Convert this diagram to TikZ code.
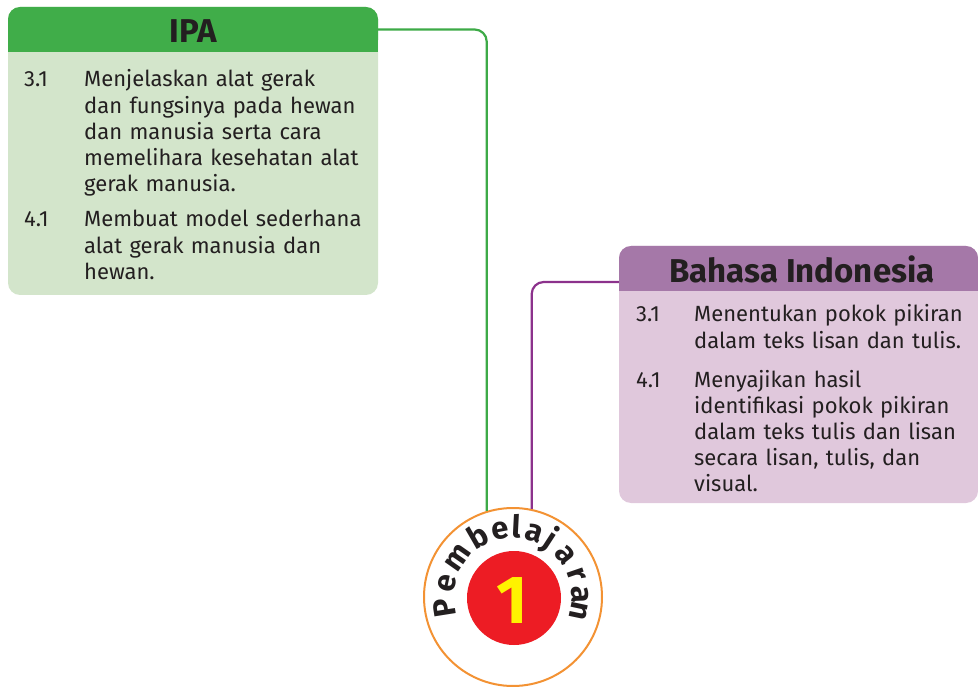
\documentclass[tikz,border=0pt]{standalone}
\usepackage{fontspec}
\setmainfont{Fira Sans}
\definecolor{ipaheadc}{RGB}{64,173,73}
\definecolor{ipabodyc}{RGB}{211,229,203}
\definecolor{ipalinec}{RGB}{61,170,71}
\definecolor{biheadc}{RGB}{165,120,168}
\definecolor{bibodyc}{RGB}{224,200,220}
\definecolor{bilinec}{RGB}{140,50,140}
\definecolor{ringc}{RGB}{243,146,51}
\definecolor{redc}{RGB}{237,28,36}
\definecolor{yelc}{RGB}{255,242,0}
\definecolor{txtc}{RGB}{35,31,32}
\begin{document}
\begin{tikzpicture}[x=1pt,y=-1pt,
  bodytext/.style={anchor=base west, inner sep=0pt, text=txtc, font=\fontsize{22}{26.2}\selectfont, align=left, text width=#1},
  bodytext/.default=300pt,
  numtext/.style={anchor=base west, inner sep=0pt, text=txtc, font=\fontsize{22}{26.2}\selectfont},
  headtext/.style={anchor=base, inner sep=0pt, text=txtc, font=\bfseries\fontsize{33}{33}\selectfont},
  headbox/.style={rectangle, inner sep=0pt, minimum width=#1, minimum height=45pt},
  arcletter/.style={anchor=base, inner sep=0pt, text=txtc, font=\bfseries\fontsize{31}{31}\selectfont},
  conn/.style={line width=2.2pt, rounded corners=12pt}
]
\useasboundingbox (0,0) rectangle (978,687);

% IPA box
\fill[ipabodyc, rounded corners=12pt] (8,7) rectangle (378,295);
\fill[ipaheadc, rounded corners=12pt] (8,7) rectangle (378,52);
\fill[ipaheadc] (8,30) rectangle (378,52);
\node[headbox=370pt] (ipaH) at (193,29.5) {};
\node[headtext] (ipaT) at (193,43) {IPA};
\node[numtext] (ipaN1) at (24,87) {3.1};
\node[bodytext] (ipaI1) at (84,87) {Menjelaskan alat gerak\\dan fungsinya pada hewan\\dan manusia serta cara\\memelihara kesehatan alat\\gerak manusia.};
\node[numtext] (ipaN2) at (24,227) {4.1};
\node[bodytext] (ipaI2) at (84,227) {Membuat model sederhana\\alat gerak manusia dan\\hewan.};

% Bahasa Indonesia box
\fill[bibodyc, rounded corners=12pt] (619,246) rectangle (978,503);
\fill[biheadc, rounded corners=12pt] (619,246) rectangle (978,291);
\fill[biheadc] (619,270) rectangle (978,291);
\node[headbox=359pt] (biH) at (798.5,268.5) {};
\node[headtext] (biT) at (802,283) {Bahasa Indonesia};
\node[numtext] (biN1) at (636,322) {3.1};
\node[bodytext=290pt] (biI1) at (694,322) {Menentukan pokok pikiran\\dalam teks lisan dan tulis.};
\node[numtext] (biN2) at (636,387) {4.1};
\node[bodytext=290pt] (biI2) at (694,387) {Menyajikan hasil\\identifikasi pokok pikiran\\dalam teks tulis dan lisan\\secara lisan, tulis, dan\\visual.};

% circle
\node[circle, draw=ringc, line width=2pt, fill=white, minimum size=178pt, inner sep=0pt] (ring) at (513,597) {};
\node[circle, fill=redc, minimum size=94pt, inner sep=0pt] (redc) at (514,598) {};
\node[anchor=base, inner sep=0pt, text=yelc, font=\bfseries\fontsize{68}{68}\selectfont] (one) at (512,623) {1};
\foreach \ch/\ang [count=\i] in {P/189,e/168,m/145,b/120,e/101,l/87,a/72,j/57,a/38.5,r/19,a/2,n/-12}
  \path (ring.center) ++(-\ang:59) node[arcletter, rotate=\ang-90] (pl\i) {\ch};

% connectors
\draw[conn, ipalinec] (ipaH.east) -| (ring.107);
\draw[conn, bilinec] ([yshift=-13.5pt]biH.west) -| (ring.78);
\end{tikzpicture}
\end{document}
